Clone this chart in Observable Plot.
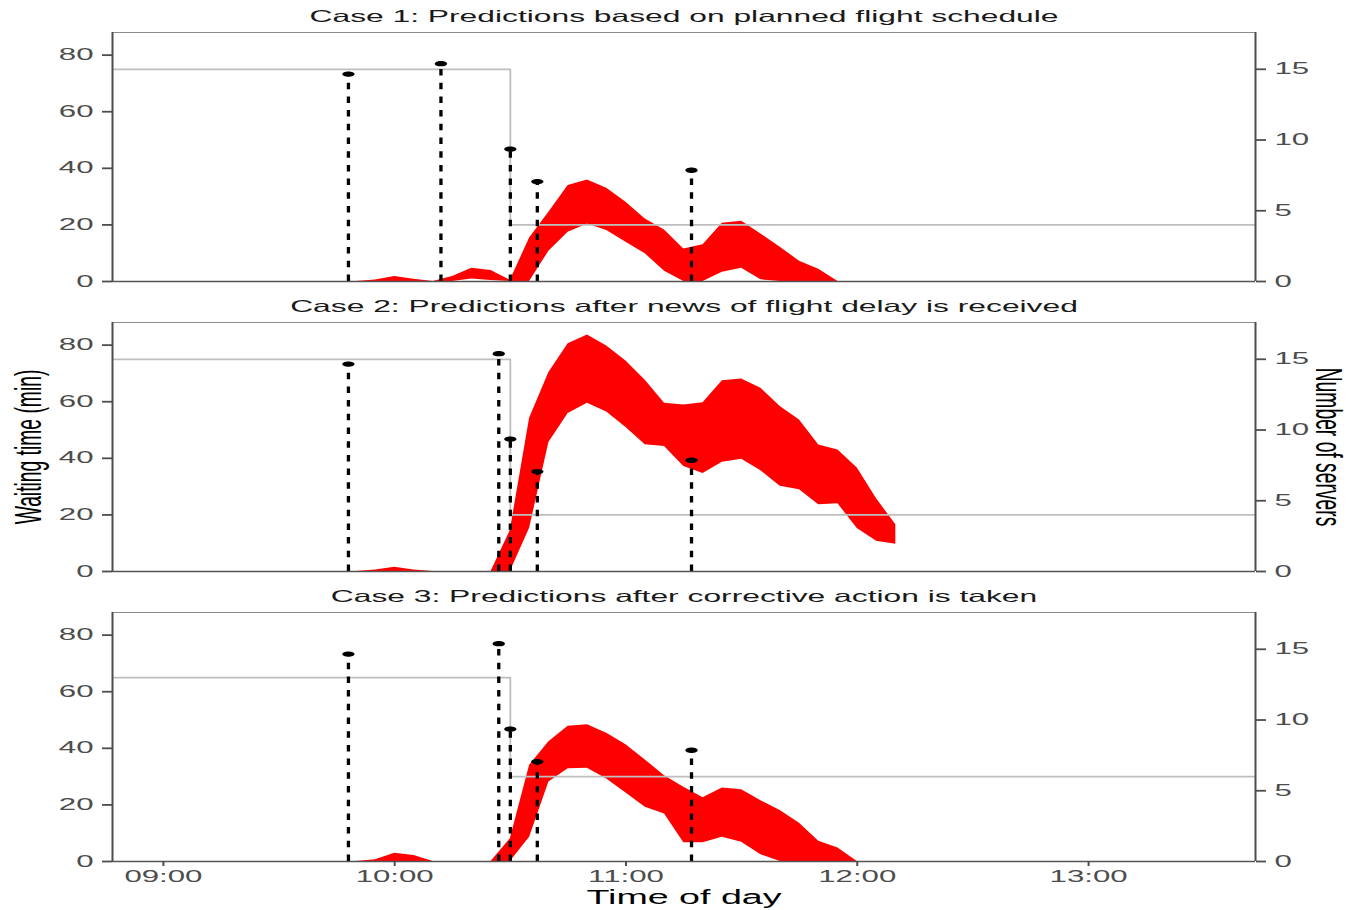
<!DOCTYPE html>
<html><head><meta charset="utf-8">
<script src="https://cdn.jsdelivr.net/npm/d3@7"></script>
<script src="https://cdn.jsdelivr.net/npm/@observablehq/plot@0.6"></script>
<style>
body{margin:0;background:#fff}
#chart{width:1350px;height:910px;position:relative;overflow:hidden;background:#fff}
#chart svg{display:block}
</style>
</head><body><div id="chart"></div>
<script>
// ---------- data ----------
const caseTitles = [
  "Case 1: Predictions based on planned flight schedule",
  "Case 2: Predictions after news of flight delay is received",
  "Case 3: Predictions after corrective action is taken"
];
const bandTimes = ["09:50","09:55","10:00","10:05","10:10","10:15","10:20","10:25","10:30","10:35","10:40","10:45","10:50","10:55","11:00","11:05","11:10","11:15","11:20","11:25","11:30","11:35","11:40","11:45","11:50","11:55","12:00","12:05","12:10"];
const case1Lower = [0,0,0,0,0,0,0.9,0.35,0,0,10.7,17.4,20.3,18.0,13.9,9.8,3.6,0,0,3.3,4.7,0.6,0,0,0,0,0,0,0];
const case1Upper = [0,0.5,1.8,0.8,0,1.8,4.7,3.9,0.4,15.4,24.5,33.9,35.9,33.0,28.0,22.1,18.2,11.5,13.0,20.6,21.3,16.8,12.1,7.2,4.3,0,0,0,0];
const case2Lower = [0,0,0,0,0,0,0,0,0,15.3,45.6,55.8,59.5,56.4,50.9,44.8,44.2,37.1,34.6,38.6,39.7,35.6,30.1,28.9,23.6,23.9,15.2,10.7,9.6];
const case2Upper = [0,0.5,1.5,0.5,0,0,0,0,14.5,54.2,70.3,80.5,83.6,79.7,74.4,67.6,59.5,58.8,59.6,67.4,68.0,64.8,58.3,53.5,44.7,42.9,36.6,25.7,16.5];
const case3Lower = [0,0,0,0,0,0,0,0,0,8.6,28.1,32.8,33.0,29.2,24.2,19.2,16.8,6.6,6.6,8.6,6.8,2.4,0,0,0,0,0,0,0];
const case3Upper = [0,0.6,2.9,2.1,0,0,0,0,8.0,34.0,42.3,47.8,48.3,45.3,41.3,35.9,30.3,26.2,22.5,26.0,25.4,21.5,18.0,13.5,7.2,4.8,0,0,0];

const serverTimes = ["08:40","10:30","13:50"];
const case1Servers = [15,4,4];
const case2Servers = [15,4,4];
const case3Servers = [13,6,6];

const case1FlightTimes = ["09:48","10:12","10:30","10:37","11:17"];
const case2FlightTimes = ["09:48","10:27","10:30","10:37","11:17"];
const case3FlightTimes = ["09:48","10:27","10:30","10:37","11:17"];
const flightHeights = [73.3,77.0,46.8,35.3,39.3];

const xTickLabels = ["09:00","10:00","11:00","12:00","13:00"];
const xDomainLabels = ["08:46:48","13:43:18"];
const waitTicks = [0,20,40,60,80];
const serverTicks = [0,5,10,15];
const yDomain = [0,88];
const minutesPerServer = 5;

const xLabel = "Time of day";
const yLabel = "Waiting time (min)";
const y2Label = "Number of servers";

// ---------- helpers ----------
const parse = s => { const [h,m,sec=0] = s.split(":").map(Number); return new Date(Date.UTC(2000,0,1,h,m,sec)); };
const xDomain = xDomainLabels.map(parse);
const lowers = [case1Lower, case2Lower, case3Lower];
const uppers = [case1Upper, case2Upper, case3Upper];
const serverSeries = [case1Servers, case2Servers, case3Servers];
const flightSeries = [case1FlightTimes, case2FlightTimes, case3FlightTimes];

const ellipse = {draw(ctx) {
  const rx = 6.2, ry = 2.7, k = 0.5523;
  ctx.moveTo(rx, 0);
  ctx.bezierCurveTo(rx, ry*k, rx*k, ry, 0, ry);
  ctx.bezierCurveTo(-rx*k, ry, -rx, ry*k, -rx, 0);
  ctx.bezierCurveTo(-rx, -ry*k, -rx*k, -ry, 0, -ry);
  ctx.bezierCurveTo(rx*k, -ry, rx, -ry*k, rx, 0);
  ctx.closePath();
}};

const STRETCH = 1.95;
function stretchText(svg) {
  svg.querySelectorAll("text").forEach(t => {
    const tr = t.getAttribute("transform") || "";
    if (/^translate\([^)]*\)/.test(tr)) {
      t.setAttribute("transform", tr.replace(/^(translate\([^)]*\))/, `$1 scale(${STRETCH},1)`));
    }
  });
}

const axisColor = "#4d4d4d";
const tickFont = 16;

function panel(i, height, marginBottom) {
  const rows = bandTimes.map((t, j) => ({time: parse(t), lower: lowers[i][j], upper: uppers[i][j]}));
  const servers = serverTimes.map((t, j) => ({time: parse(t), servers: serverSeries[i][j]}));
  const flights = flightSeries[i].map((t, j) => ({time: parse(t), height: flightHeights[j]}));
  const marks = [
    Plot.areaY(rows, {x: "time", y1: "lower", y2: "upper", fill: "#ff0000", curve: "linear"}),
    Plot.line(servers, {x: "time", y: d => d.servers * minutesPerServer, curve: "step-after", stroke: "#bebebe", strokeWidth: 1.8, clip: true}),
    Plot.ruleX(flights, {x: "time", y1: 0, y2: "height", stroke: "#000", strokeWidth: 3.3, strokeDasharray: "6.5,7.2"}),
    Plot.dot(flights, {x: "time", y: "height", symbol: ellipse, fill: "#000", stroke: "none", r: 3}),
    Plot.ruleY([yDomain[1]], {stroke: "#8c8c8c", strokeWidth: 1}),
    Plot.ruleY([yDomain[0]], {stroke: "#555555", strokeWidth: 1.5}),
    Plot.ruleX([xDomain[0]], {stroke: axisColor, strokeWidth: 2}),
    Plot.ruleX([xDomain[1]], {stroke: axisColor, strokeWidth: 2}),
    Plot.axisY(waitTicks, {anchor: "left", tickSize: 10, tickPadding: 9, fontSize: tickFont, color: axisColor, strokeWidth: 1.8, label: null}),
    Plot.axisY(serverTicks.map(s => s * minutesPerServer), {anchor: "right", tickSize: 10, tickPadding: 9, fontSize: tickFont, color: axisColor, strokeWidth: 1.8, tickFormat: d => d / minutesPerServer, label: null}),
    Plot.text([caseTitles[i]], {frameAnchor: "top", lineAnchor: "middle", textAnchor: "middle", dy: -16, fontSize: 16.3, fill: "#1a1a1a"})
  ];
  if (i === 1) {
    marks.push(Plot.text([yLabel], {frameAnchor: "left", lineAnchor: "middle", textAnchor: "middle", dx: -84, rotate: -90, fontSize: 19.3, fill: "#000"}));
    marks.push(Plot.text([y2Label], {frameAnchor: "right", lineAnchor: "middle", textAnchor: "middle", dx: 73, rotate: 90, fontSize: 19.3, fill: "#000"}));
  }
  if (i === 2) {
    marks.push(Plot.axisX(xTickLabels.map(parse), {tickSize: 5, tickPadding: 4, fontSize: tickFont, color: axisColor, strokeWidth: 2, tickFormat: d3.utcFormat("%H:%M"), label: null}));
    marks.push(Plot.text([xLabel], {frameAnchor: "bottom", lineAnchor: "middle", textAnchor: "middle", dy: 36, fontSize: 19.3, fill: "#000"}));
  }
  const svg = Plot.plot({
    width: 1350, height, marginTop: 32, marginBottom, marginLeft: 112, marginRight: 95,
    style: {fontFamily: "'Liberation Sans', Arial, sans-serif", background: "#fff", overflow: "visible"},
    x: {type: "utc", domain: xDomain, axis: null},
    y: {domain: yDomain, axis: null},
    marks
  });
  stretchText(svg);
  return svg;
}

const chart = document.getElementById("chart");
chart.appendChild(panel(0, 290, 9));
chart.appendChild(panel(1, 290, 9));
chart.appendChild(panel(2, 330, 49));
</script>
</body></html>
